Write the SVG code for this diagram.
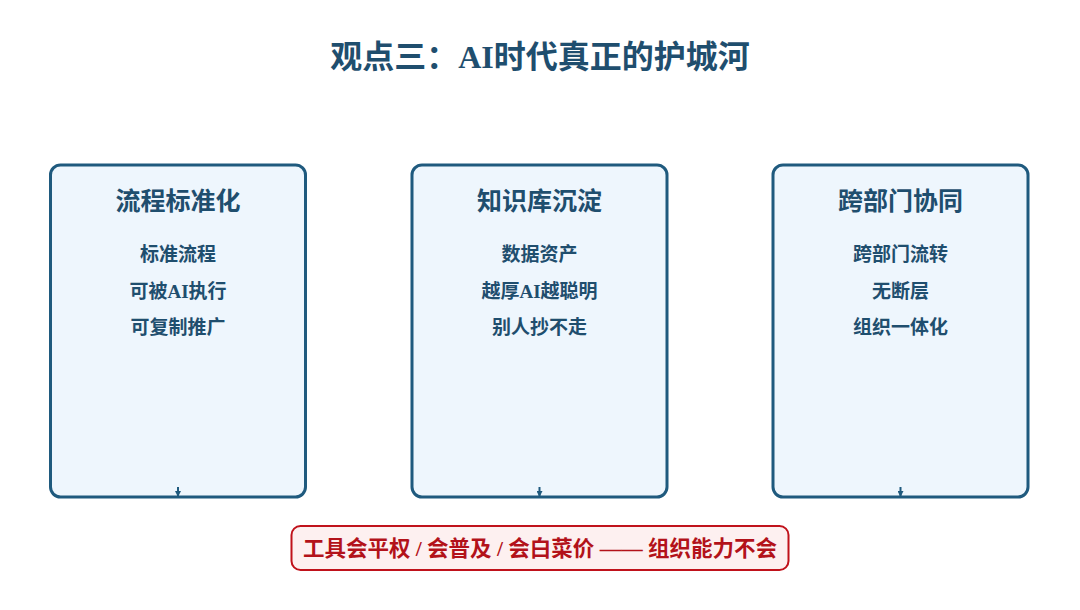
<svg xmlns="http://www.w3.org/2000/svg" width="1080" height="610" viewBox="0 0 1080 610">
<style>
.box{fill:#eef6fd;stroke:#1f5a7e;stroke-width:3}
.t{font-family:"Liberation Serif","Noto Sans CJK SC",serif;font-weight:bold;fill:#1f4e6e;text-anchor:middle}
.h{font-size:25px}
.i{font-size:19px}
.conn{stroke:#1f5a7e;stroke-width:2;fill:none}
</style>
<defs>
<marker id="ah" markerWidth="6" markerHeight="6" refX="5" refY="3" orient="auto" markerUnits="userSpaceOnUse">
<path d="M0,0 L6,3 L0,6 Z" fill="#1f5a7e"/>
</marker>
</defs>
<rect width="1080" height="610" fill="#ffffff"/>
<text id="title" class="t" x="540" y="68" font-size="32" fill="#1f4e79">观点三：AI时代真正的护城河</text>
<g id="node1">
<rect class="box" x="50.5" y="165" width="255" height="332" rx="10"/>
<text class="t h" x="178" y="210">流程标准化</text>
<text class="t i" x="178" y="261">标准流程</text>
<text class="t i" x="178" y="298">可被AI执行</text>
<text class="t i" x="178" y="334">可复制推广</text>
</g>
<g id="node2">
<rect class="box" x="412" y="165" width="255" height="332" rx="10"/>
<text class="t h" x="539.5" y="210">知识库沉淀</text>
<text class="t i" x="539.5" y="261">数据资产</text>
<text class="t i" x="539.5" y="298">越厚AI越聪明</text>
<text class="t i" x="539.5" y="334">别人抄不走</text>
</g>
<g id="node3">
<rect class="box" x="773" y="165" width="255" height="332" rx="10"/>
<text class="t h" x="900.5" y="210">跨部门协同</text>
<text class="t i" x="900.5" y="261">跨部门流转</text>
<text class="t i" x="900.5" y="298">无断层</text>
<text class="t i" x="900.5" y="334">组织一体化</text>
</g>
<g id="connectors">
<line class="conn" x1="178" y1="487" x2="178" y2="496" marker-end="url(#ah)"/>
<line class="conn" x1="539.5" y1="487" x2="539.5" y2="496" marker-end="url(#ah)"/>
<line class="conn" x1="900.5" y1="487" x2="900.5" y2="496" marker-end="url(#ah)"/>
</g>
<g id="note">
<rect x="291.5" y="526" width="497" height="44" rx="9" fill="#fdf0f0" stroke="#c0121b" stroke-width="2"/>
<text x="540" y="556" font-family="'Liberation Serif','Noto Sans CJK SC',serif" font-weight="bold" font-size="21.5" fill="#b3121a" text-anchor="middle">工具会平权 / 会普及 / 会白菜价 —— 组织能力不会</text>
</g>
</svg>
